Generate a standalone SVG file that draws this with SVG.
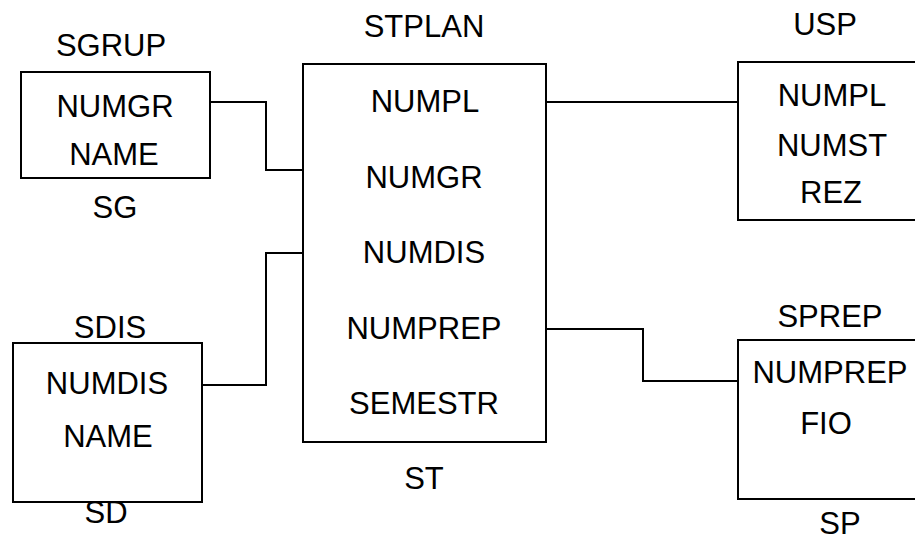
<svg xmlns="http://www.w3.org/2000/svg" width="915" height="541" viewBox="0 0 915 541">
<style>
.box{fill:#fff;stroke:#000;stroke-width:2}
.ln{fill:none;stroke:#000;stroke-width:2}
text{font-family:"Liberation Sans",Arial,sans-serif;font-size:31px;fill:#000;text-anchor:middle}
</style>
<rect width="915" height="541" fill="#fff"/>
<g id="connectors">
<polyline class="ln" points="210,102 266,102 266,170 303,170"/>
<polyline class="ln" points="202,385 266,385 266,253 303,253"/>
<polyline class="ln" points="546,102 738,102"/>
<polyline class="ln" points="546,329 643,329 643,381 738,381"/>
</g>
<g id="SG">
<rect class="box" x="21" y="72" width="189" height="106"/>
<text x="111" y="56">SGRUP</text>
<text x="115" y="117">NUMGR</text>
<text x="114" y="165">NAME</text>
<text x="115" y="218">SG</text>
</g>
<g id="SD">
<rect class="box" x="13" y="343" width="189" height="159"/>
<text x="110" y="338">SDIS</text>
<text x="107" y="394">NUMDIS</text>
<text x="108" y="447">NAME</text>
<text x="106" y="523">SD</text>
</g>
<g id="ST">
<rect class="box" x="303" y="64" width="243" height="378"/>
<text x="424" y="37">STPLAN</text>
<text x="425" y="112">NUMPL</text>
<text x="424" y="188">NUMGR</text>
<text x="424" y="263">NUMDIS</text>
<text x="424" y="339">NUMPREP</text>
<text x="424" y="414">SEMESTR</text>
<text x="424" y="489">ST</text>
</g>
<g id="USP">
<rect class="box" x="738" y="62" width="200" height="158"/>
<text x="825" y="35">USP</text>
<text x="832" y="106">NUMPL</text>
<text x="832" y="156">NUMST</text>
<text x="831" y="203">REZ</text>
</g>
<g id="SP">
<rect class="box" x="738" y="340" width="200" height="159"/>
<text x="830" y="327">SPREP</text>
<text x="830" y="383">NUMPREP</text>
<text x="826" y="434">FIO</text>
<text x="840" y="534">SP</text>
</g>
</svg>
